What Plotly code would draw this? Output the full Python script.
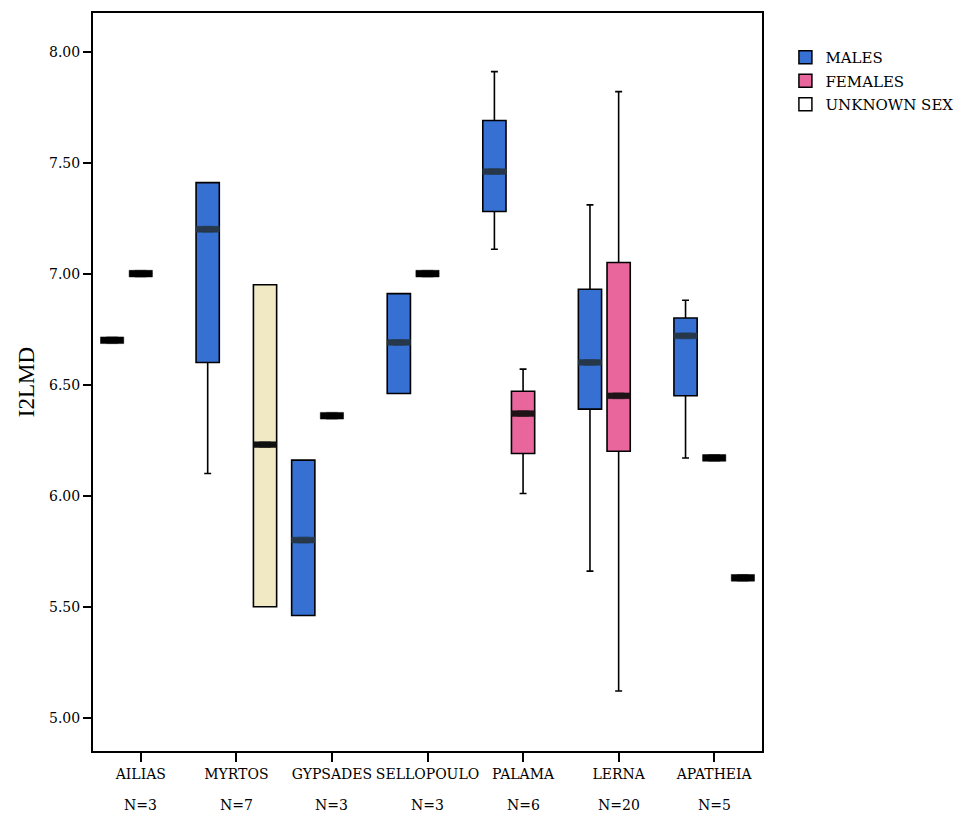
import plotly.graph_objects as go

# ---------------- data ----------------
categories = ["AILIAS", "MYRTOS", "GYPSADES", "SELLOPOULO", "PALAMA", "LERNA", "APATHEIA"]
n_labels = ["N=3", "N=7", "N=3", "N=3", "N=6", "N=20", "N=5"]

# Males: full boxes
male_cats = ["MYRTOS", "GYPSADES", "SELLOPOULO", "PALAMA", "LERNA", "APATHEIA"]
male_low = [6.10, 5.46, 6.46, 7.11, 5.66, 6.17]
male_q1 = [6.60, 5.46, 6.46, 7.28, 6.39, 6.45]
male_med = [7.20, 5.80, 6.69, 7.46, 6.60, 6.72]
male_q3 = [7.41, 6.16, 6.91, 7.69, 6.93, 6.80]
male_high = [7.41, 6.16, 6.91, 7.91, 7.31, 6.88]
# Males: single-valued groups
male_single_cats = ["AILIAS"]
male_single_vals = [6.70]

# Females: full boxes
female_cats = ["PALAMA", "LERNA"]
female_low = [6.01, 5.12]
female_q1 = [6.19, 6.20]
female_med = [6.37, 6.45]
female_q3 = [6.47, 7.05]
female_high = [6.57, 7.82]
female_single_cats = ["AILIAS", "GYPSADES", "SELLOPOULO", "APATHEIA"]
female_single_vals = [7.00, 6.36, 7.00, 6.17]

# Unknown sex
unk_cats = ["MYRTOS"]
unk_low = [5.50]
unk_q1 = [5.50]
unk_med = [6.23]
unk_q3 = [6.95]
unk_high = [6.95]
unk_single_cats = ["APATHEIA"]
unk_single_vals = [5.63]

y_ticks = [5.00, 5.50, 6.00, 6.50, 7.00, 7.50, 8.00]

# ---------------- style ----------------
BLUE = "#3670d2"
PINK = "#e8669c"
CREAM = "#f1e8c4"
SERIF = "DejaVu Serif"
TSERIF = "Liberation Serif"
MED_H = 0.013   # half thickness of median band (data units)
DASH_H = 0.015  # half thickness of single-value dash

fig = go.Figure()


def add_group(name, cats, low, q1, med, q3, high, s_cats, s_vals, fill, band, og):
    if cats:
        fig.add_trace(go.Box(
            x=cats, q1=q1, median=med, q3=q3, lowerfence=low, upperfence=high,
            name=name, offsetgroup=og, fillcolor=fill,
            line=dict(color="black", width=1.6), whiskerwidth=0.3,
            showlegend=False, hoverinfo="skip"))
        fig.add_trace(go.Box(
            x=cats, q1=[m - MED_H for m in med], median=med,
            q3=[m + MED_H for m in med],
            lowerfence=[m - MED_H for m in med], upperfence=[m + MED_H for m in med],
            name=name + " median", offsetgroup=og, fillcolor=band,
            line=dict(color=band, width=0.5),
            showlegend=False, hoverinfo="skip"))
    if s_cats:
        fig.add_trace(go.Box(
            x=s_cats, q1=[v - DASH_H for v in s_vals], median=s_vals,
            q3=[v + DASH_H for v in s_vals],
            lowerfence=[v - DASH_H for v in s_vals], upperfence=[v + DASH_H for v in s_vals],
            name=name + " single", offsetgroup=og, fillcolor="black",
            line=dict(color="black", width=0.5),
            showlegend=False, hoverinfo="skip"))


add_group("MALES", male_cats, male_low, male_q1, male_med, male_q3, male_high,
          male_single_cats, male_single_vals, BLUE, "#27384a", "m")
add_group("FEMALES", female_cats, female_low, female_q1, female_med, female_q3, female_high,
          female_single_cats, female_single_vals, PINK, "#1e1418", "f")
add_group("UNKNOWN SEX", unk_cats, unk_low, unk_q1, unk_med, unk_q3, unk_high,
          unk_single_cats, unk_single_vals, CREAM, "#111111", "u")

# legend-only entries
for nm, col in [("MALES", BLUE), ("FEMALES", PINK), ("UNKNOWN SEX", "white")]:
    fig.add_trace(go.Scatter(
        x=[None], y=[None], mode="markers", name=nm, legendgroup=nm,
        marker=dict(symbol="square", size=13, color=col,
                    line=dict(color="black", width=1.5)),
        showlegend=True))

# N labels under category names
for c, nl in zip(categories, n_labels):
    fig.add_annotation(x=c, y=0, xref="x", yref="paper", text=nl,
                       showarrow=False, yanchor="top", yshift=-44,
                       font=dict(family=SERIF, size=14, color="black"))

fig.update_layout(
    width=975, height=822,
    margin=dict(l=93, r=213, t=13, b=71),
    paper_bgcolor="white", plot_bgcolor="white",
    boxmode="group", boxgap=0.1, boxgroupgap=0.19,
    font=dict(family=SERIF, color="black"),
    legend=dict(x=1.035, y=0.962, xanchor="left", yanchor="top",
                font=dict(family=SERIF, size=15, color="black"),
                tracegroupgap=1, bgcolor="rgba(0,0,0,0)"),
    xaxis=dict(
        type="category", categoryorder="array", categoryarray=categories,
        tickmode="array", tickvals=categories, ticktext=categories,
        showline=True, linecolor="black", linewidth=2, mirror=True,
        ticks="outside", ticklen=9, tickwidth=2, tickcolor="black",
        showgrid=False, zeroline=False,
        tickfont=dict(family=SERIF, size=14, color="black")),
    yaxis=dict(
        range=[4.85, 8.174], tickmode="array", tickvals=y_ticks,
        ticktext=[f"{v:.2f}" for v in y_ticks],
        showline=True, linecolor="black", linewidth=2, mirror=True,
        ticks="outside", ticklen=8, tickwidth=2, tickcolor="black",
        showgrid=False, zeroline=False,
        tickfont=dict(family=SERIF, size=14, color="black"),
        title=dict(text="I2LMD", font=dict(family=TSERIF, size=23, color="black"),
                   standoff=8)),
)

fig.write_html("out.html")
